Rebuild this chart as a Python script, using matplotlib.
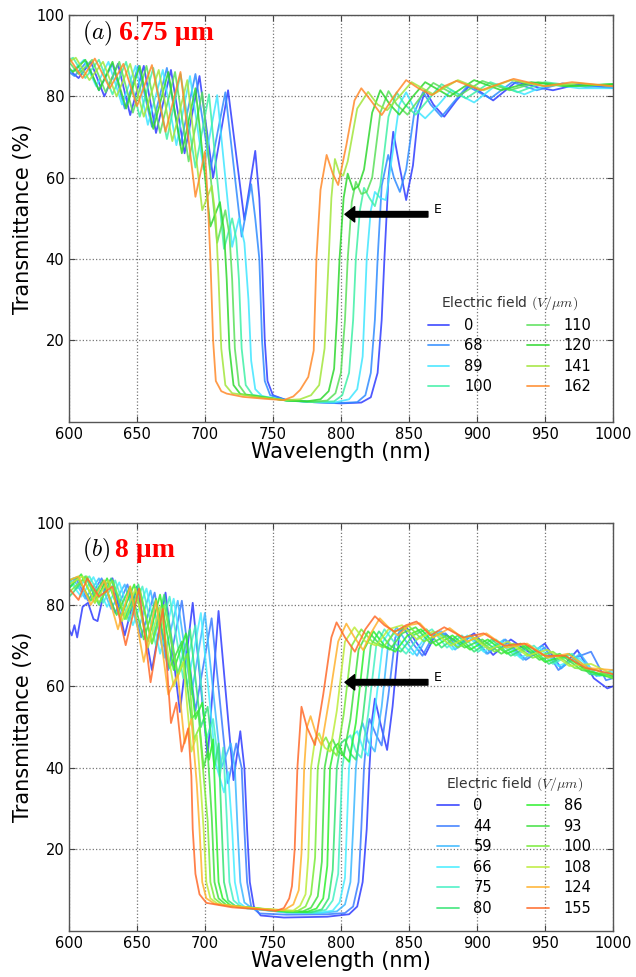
import matplotlib.pyplot as plt

plt.rcParams['mathtext.fontset'] = 'cm'
plt.rcParams['font.family'] = ['DejaVu Sans']

# ---- panel (a): 6.75 um cell ----
fields_a = [0, 68, 89, 100, 110, 120, 141, 162]
colors_a = ['#2f3cff', '#2f8cff', '#3fe6ff', '#3ff0a6', '#5ae05a', '#2fd82f', '#a2e63c', '#ff8a2a']

a_e0 = [(600, 86.5), (607, 84.5), (616, 88.5), (626, 80), (636, 88), (645, 75.4), (655, 87.5), (664, 71),
        (675, 86.5), (685, 66), (696, 85), (706, 60), (717, 81.5), (729, 49.6), (737, 66.6), (740, 55),
        (742, 40), (744, 20), (746, 10), (750, 6.5), (760, 5.3), (780, 4.8), (800, 4.5), (815, 4.7),
        (822, 6), (827, 12), (830, 25), (832, 40), (835, 60), (838.5, 71.3), (843, 63), (848, 54.5),
        (853, 63), (857, 76), (862, 81.5), (868, 78), (876, 75), (885, 79), (895, 82.8), (912, 79),
        (929, 83.6), (945, 82.2), (956, 81.5), (975, 83), (1000, 82)]
a_e68 = [(600, 86), (604, 85), (613, 88.5), (622, 81.5), (632, 88), (641, 77), (651, 87.5), (661, 72.5),
         (672, 87), (682, 68), (693, 85.5), (704, 62), (715, 81), (727, 45.5), (734, 58.4), (737, 50),
         (740, 40), (742, 20), (744, 10), (748, 6.5), (760, 5.3), (780, 4.8), (800, 4.6), (812, 4.8),
         (818, 6.5), (822, 12), (825, 25), (827, 40), (830, 58), (834.8, 65.6), (839, 60), (843.4, 56.5),
         (848, 62), (854, 76), (860.5, 81.1), (866, 78), (874, 75), (884, 79), (893, 82.5), (910, 79.5),
         (926, 83.5), (944, 81.5), (963, 83.2), (980, 82.3), (1000, 82.5)]
a_e89 = [(600, 86.5), (602, 86), (611, 89), (620, 82.5), (629, 88.5), (639, 78), (649, 87.5), (658, 73),
         (669, 86.5), (679, 68), (689, 85), (699, 62), (709, 80.3), (720, 43), (725, 50), (729, 44),
         (732, 30), (734, 15), (737, 8), (742, 6.3), (760, 5.2), (780, 4.8), (795, 4.7), (806, 5.5),
         (812, 8), (816, 16), (819, 40), (822, 52), (825, 56.5), (829, 55), (833, 54.5), (838, 66),
         (843, 78), (848, 81), (854, 77), (862, 74.6), (872, 78), (881, 81.5), (898, 78.5), (915, 83),
         (935, 80.5), (953, 83), (975, 82), (1000, 82)]
a_e100 = [(600, 89), (603, 89.5), (612, 84.5), (622, 89), (632, 80.5), (642, 88.5), (652, 75), (662, 87),
          (672, 69.5), (682, 85.5), (693, 62.5), (703, 80.5), (714, 42.5), (720, 50), (723, 45), (725, 35),
          (727, 18), (730, 9), (735, 6.6), (760, 5.2), (780, 4.8), (795, 5), (801, 6.5), (806, 12),
          (809, 25), (811, 40), (814, 52), (817, 57.5), (821, 55), (825, 53), (829, 58), (835, 75),
          (841, 81), (847, 78), (855, 75.5), (865, 79.5), (874, 83), (892, 79.5), (910, 83.5), (930, 81),
          (950, 83.5), (975, 82.5), (1000, 83)]
a_e110 = [(600, 88.5), (607, 85.5), (617, 89), (627, 81), (637, 88.5), (647, 76), (657, 87.5), (667, 71),
          (678, 86), (688, 64), (698, 81), (709, 44), (715, 52), (718, 46), (720, 35), (722, 18),
          (725, 9), (730, 6.7), (760, 5.2), (780, 4.9), (790, 5.2), (796, 7), (800, 12), (803, 25),
          (805, 40), (808, 54), (811, 59), (815, 56), (819, 56.5), (823, 60), (829, 76), (835, 81.3),
          (841, 78), (849, 75.5), (859, 80), (868, 83.3), (886, 80), (904, 83.8), (924, 81.5), (945, 83.5),
          (970, 82.5), (1000, 83)]
a_e120 = [(600, 87), (603, 86), (612, 89), (622, 81.5), (632, 88.5), (642, 77), (652, 87.5), (662, 72),
          (673, 86), (683, 66), (693, 82), (704, 48), (711, 54), (714, 47), (716, 35), (718, 18),
          (721, 9), (726, 6.8), (760, 5.2), (775, 5), (785, 5.5), (791, 7.5), (795, 13), (797, 25),
          (799, 40), (802, 55), (805, 61), (809, 57), (813, 58), (817, 62), (823, 76), (829, 81.5),
          (836, 78), (843, 75.5), (853, 80), (862, 83.5), (880, 80), (898, 84), (918, 81.5), (940, 83.5),
          (965, 82.5), (1000, 83)]
a_e141 = [(600, 88.5), (605, 89.5), (615, 84), (625, 88.5), (635, 80), (645, 88), (655, 75), (666, 86.5),
          (676, 69), (687, 84), (698, 52), (705, 58), (708, 50), (710, 35), (712, 18), (715, 9),
          (720, 7), (740, 6), (760, 5.3), (770, 5.5), (778, 6.5), (784, 9), (788, 18), (791, 40),
          (793, 55), (795.6, 64.6), (799, 61), (801.7, 60.5), (805, 64), (812, 77), (820, 81.1), (827, 78),
          (834, 76.6), (843, 80), (852, 83.5), (868, 80.5), (886, 84), (905, 81.5), (925, 84), (950, 82.5),
          (975, 83.2), (1000, 82.5)]
a_e162 = [(600, 89.5), (610, 84.5), (619, 89.3), (630, 82), (640, 88), (650, 77.6), (661, 87.7), (671, 71.3),
          (682, 86), (693, 55.3), (700, 66.4), (702, 55), (704, 40), (706, 20), (708, 10), (712, 7.5),
          (716, 6.9), (728, 6.1), (745, 5.6), (758, 5.3), (765, 6.2), (770, 7.8), (776, 11), (780, 17.5),
          (782, 40), (785, 57), (789.5, 65.6), (794, 61), (798, 58.2), (804, 68), (810, 79), (815, 82),
          (822, 79), (830, 75.4), (839, 80), (848, 84), (857, 82), (867, 80.3), (876, 82.5), (885, 83.8),
          (903, 81.5), (927, 84.3), (950, 82.5), (970, 83.5), (1000, 82.5)]
curves_a = [a_e0, a_e68, a_e89, a_e100, a_e110, a_e120, a_e141, a_e162]

# ---- panel (b): 8 um cell ----
fields_b = [0, 44, 59, 66, 75, 80, 86, 93, 100, 108, 124, 155]
colors_b = ['#2f3cff', '#3a7cff', '#3cb8ff', '#45eeff', '#45f0c4', '#35e474', '#2ef02e', '#42e042',
            '#7aec3a', '#bdec3c', '#ffb22e', '#ff6a2a']

b_e0 = [(600, 74), (602, 72.5), (604, 75), (606, 72), (610, 79.5), (614, 80.5), (618, 76.5), (621, 76),
        (627, 85), (632, 86.5), (641, 72.5), (650, 84.5), (661, 64), (671, 83), (681.6, 53.7), (691, 80.5),
        (702, 42.7), (710, 78.5), (721, 37), (726, 49), (729, 40), (731, 25), (733, 12), (736, 6),
        (741, 3.8), (758, 3.3), (790, 3.5), (806, 4.1), (812, 6), (816, 12), (819, 25), (821, 40),
        (823, 52), (825, 57), (829, 51), (834, 44.4), (838, 55), (843, 73), (848, 74.6), (855, 71),
        (862, 67.7), (870, 73), (878, 72.5), (887, 70.6), (898, 73), (912, 67.7), (925, 71.5), (940, 68),
        (950, 70.5), (962, 64.4), (974, 68.9), (986, 62), (996, 59.5), (1000, 60)]
b_e44 = [(600, 84), (605, 86.5), (614, 81), (624, 86.5), (634, 78), (643, 85), (653, 72), (663, 83),
         (673, 64), (683, 81), (693, 54), (704.9, 76.7), (717, 36.2), (723, 46), (727, 40), (729, 25),
         (731, 12), (734, 6), (740, 4.3), (760, 4), (790, 4.1), (803, 4.4), (809, 6), (813, 12),
         (815, 25), (817, 40), (819, 48), (821, 52), (826, 48), (830, 45.5), (835, 58), (840, 72),
         (846, 74.5), (853, 70.5), (860, 67.5), (868, 72.5), (877, 73), (886, 69.5), (896, 72.5), (908, 68),
         (921, 71.5), (936, 66.5), (950, 69.5), (960, 64), (972, 67), (984, 68.5), (995, 61.5), (1000, 62)]
b_e59 = [(600, 85), (603, 86.5), (612, 81.5), (622, 86.5), (631, 79), (641, 85), (651, 74), (660, 83.5),
         (670, 67), (680, 81), (690, 58), (700, 78), (712, 40), (719, 46), (722, 40), (724, 25),
         (726, 12), (729, 7), (735, 5.5), (760, 4.5), (785, 4.4), (797, 4.8), (803, 6.5), (807, 12),
         (809, 25), (811, 40), (814, 49), (816, 51), (820, 46.5), (825, 44), (830, 55), (835, 71),
         (841, 74.5), (848, 71), (856, 67.5), (864, 72.5), (874, 73.5), (884, 69), (895, 72.5), (907, 68),
         (920, 71.5), (934, 66.5), (948, 70), (962, 64.5), (976, 68), (988, 62.5), (1000, 64)]
b_e66 = [(600, 86), (609, 82), (618, 86.8), (628, 79.5), (637, 85.5), (647, 75), (657, 84), (667, 68),
         (677, 81.5), (687, 60), (697, 78), (708, 41), (714, 34), (717, 39), (720, 25), (722, 12),
         (725, 7), (731, 5.5), (760, 4.6), (785, 4.5), (794, 5), (799, 7), (803, 13), (806, 40),
         (809, 48), (812, 49), (816, 45), (820, 43), (825, 54), (831, 71), (837, 74), (845, 70.5),
         (853, 67.8), (862, 72), (871, 73.5), (882, 69), (893, 72.5), (905, 68.5), (918, 71), (932, 67),
         (946, 69.5), (960, 65), (975, 67), (990, 62.5), (1000, 63.5)]
b_e75 = [(600, 86.5), (606, 84), (615, 87), (625, 80.5), (634, 86), (644, 76), (654, 84.5), (664, 70),
         (674, 82), (684, 62), (693, 75), (701, 47), (706, 52), (711, 38), (713.5, 45), (716, 28),
         (718, 12), (721, 7.5), (727, 5.8), (760, 4.6), (780, 4.5), (789, 5.2), (794, 7.5), (798, 14),
         (801, 40), (804, 47), (807, 48), (811, 44), (815, 42.5), (820, 53), (826, 70), (832, 74),
         (840, 70.5), (848, 68), (857, 72), (867, 74), (878, 69.5), (889, 72.5), (901, 68.5), (914, 71.5),
         (928, 67.5), (942, 70), (956, 65.5), (970, 68), (985, 63), (1000, 63)]
b_e80 = [(600, 82), (603, 83), (612, 87), (622, 80), (631, 86.5), (641, 76.5), (651, 85), (661, 70.5),
         (670, 82.5), (680, 63), (689, 74), (697, 50), (702, 55), (707, 40), (710, 46), (712, 28),
         (714, 12), (717, 7.5), (723, 6), (760, 4.7), (778, 4.6), (786, 5.3), (791, 8), (794, 15),
         (797, 40), (800, 46), (803, 47), (807, 43.5), (811, 42), (816, 52), (822, 70), (828, 73.5),
         (836, 70), (844, 68.5), (853, 72.5), (863, 74), (874, 69.5), (886, 72.5), (898, 68.5), (911, 71.5),
         (925, 67.5), (939, 70), (953, 65.5), (968, 68), (983, 63), (1000, 62.5)]
b_e86 = [(600, 84), (609, 87.5), (619, 80.5), (628, 86.5), (638, 77), (648, 85), (658, 71), (667, 82.5),
         (677, 64), (686, 73), (693, 52), (698, 56), (703, 42), (706, 47), (708, 28), (710, 12),
         (713, 8), (719, 6.2), (760, 4.8), (775, 4.7), (782, 5.5), (787, 8), (790, 16), (792, 40),
         (795, 45), (798, 46), (802, 43), (806, 41.5), (811, 51), (817, 69), (824, 73.5), (832, 70),
         (840, 68.5), (849, 72.5), (859, 74), (870, 70), (882, 72.5), (895, 69), (908, 71.5), (922, 68),
         (936, 70), (950, 66), (965, 67.5), (980, 64), (1000, 62)]
b_e93 = [(600, 86), (606, 86.8), (616, 81), (625, 86), (635, 77.5), (645, 84.5), (655, 71.5), (664, 81.5),
         (674, 64.5), (683, 71), (690, 52), (695, 54), (699, 40), (702, 44), (705, 28), (707, 12),
         (710, 8), (716, 6.3), (760, 4.8), (772, 4.8), (778, 5.7), (783, 8.5), (786, 17), (788, 40),
         (791, 45.5), (794, 47), (798, 44), (802, 43), (807, 52), (813, 69), (820, 73.5), (828, 70.5),
         (836, 69), (845, 73), (855, 74.5), (866, 70.5), (878, 72.5), (891, 69.5), (904, 71.5), (918, 68),
         (932, 70.5), (946, 66.5), (961, 68), (977, 64), (1000, 62.5)]
b_e100 = [(600, 83), (603, 84), (613, 87), (622, 80.5), (632, 86), (642, 76.5), (652, 84), (661, 70.5),
          (670, 80), (680, 62.5), (687, 68), (692, 47), (696, 50), (699, 38), (702, 27), (704, 12),
          (707, 8), (713, 6.4), (760, 4.9), (768, 4.9), (774, 6), (778, 9), (781, 18), (783, 40),
          (786, 46), (789, 47.5), (793, 44.5), (797, 43), (802, 53), (808, 70), (815, 74), (823, 71),
          (831, 69.5), (840, 73.5), (850, 74.8), (861, 71), (873, 73), (886, 69.5), (899, 72), (913, 68.5),
          (927, 70.5), (941, 67), (956, 68.5), (972, 64.5), (988, 64), (1000, 62)]
b_e108 = [(600, 85), (610, 87), (619, 80.5), (629, 86), (639, 76), (649, 84), (658, 69.5), (667, 79.5),
          (677, 60), (684, 66), (690, 44), (694, 48), (697, 35), (699, 25), (701, 12), (704, 8),
          (710, 6.5), (740, 5.5), (765, 5), (770, 6.2), (774, 9), (776, 18), (778, 40), (781, 47),
          (784, 48.5), (788, 45), (792, 44), (797, 54), (803, 71), (810, 74.5), (818, 71), (826, 70),
          (835, 74), (845, 75), (856, 71.5), (868, 73.5), (881, 70), (895, 72.5), (909, 69), (923, 71),
          (937, 67.5), (952, 69), (968, 65), (984, 65.5), (1000, 63)]
b_e124 = [(600, 86), (607, 87), (616, 80), (626, 86), (636, 74), (645, 84.5), (655, 66), (664, 81),
          (673, 58), (680, 63), (685, 46), (690, 52), (694, 36), (696, 25), (698, 12), (701, 8),
          (707, 6.7), (740, 5.4), (758, 5.1), (765, 6.5), (769, 10), (771, 19), (773, 40), (775, 50),
          (777.7, 52.7), (782, 48), (785.8, 45.6), (792, 58), (798, 71), (804, 75.4), (810, 72), (816.4, 68.9),
          (822, 73), (828.6, 76.7), (835, 74.5), (842, 72.5), (850, 75), (858, 75.5), (868, 72), (880, 74.3),
          (893, 71), (907, 73), (922, 69.5), (937, 70.5), (952, 67), (967, 68), (982, 64.5), (1000, 64)]
b_e155 = [(600, 84), (607, 81.2), (613.5, 86.5), (622, 82), (632, 84.5), (641.7, 70.1), (651.5, 84), (660, 61),
          (669, 79), (675, 51), (679, 56), (682.8, 44), (687.7, 49.7), (690, 38), (691, 25), (693, 14),
          (696, 9), (701, 6.9), (720, 5.8), (740, 5.3), (752, 4.9), (758, 5.6), (762, 8), (764, 11),
          (766, 20), (768, 40), (771, 55), (775, 50), (780.9, 45.6), (787, 58), (793, 72), (796.8, 75.7),
          (803, 72), (810.3, 68.5), (818, 74), (825, 77.2), (832, 75), (839.7, 73.4), (848, 75), (855.6, 75.9),
          (866, 72.5), (876, 74.5), (890, 72), (905, 73), (920, 70), (935, 70.5), (950, 67.5), (965, 67.5),
          (980, 64.5), (1000, 63)]
curves_b = [b_e0, b_e44, b_e59, b_e66, b_e75, b_e80, b_e86, b_e93, b_e100, b_e108, b_e124, b_e155]


def draw_panel(ax, fields, colors, curves, tag, thickness, tag_y, arrow_t, legend_anchor):
    for e, c, pts in zip(fields, colors, curves):
        wl = [p[0] for p in pts]
        tr = [p[1] for p in pts]
        ax.plot(wl, tr, color=c, lw=1.3, alpha=0.85, label=str(e),
                solid_joinstyle='round', solid_capstyle='round')

    ax.set_xlim(600, 1000)
    ax.set_ylim(0, 100)
    ax.set_xticks(range(600, 1001, 50))
    ax.set_yticks([20, 40, 60, 80, 100])
    ax.tick_params(direction='in', top=True, right=True, length=4, labelsize=10.5, color='#444444')
    ax.grid(True, linestyle=':', color='#777777', lw=0.9)
    for sp in ax.spines.values():
        sp.set_color('#555555')
        sp.set_linewidth(1.0)

    ax.set_xlabel('Wavelength (nm)', fontsize=15, labelpad=0)
    ax.set_ylabel('Transmittance (%)', fontsize=15, labelpad=2)

    # panel tag and cell thickness
    ax.text(609.5, tag_y, '$(%s)$' % tag, fontsize=17, va='center', ha='left')
    ax.text(637 if tag == 'a' else 634, tag_y, thickness, color='red',
            fontsize=20, fontweight='bold', family=['Liberation Serif', 'DejaVu Serif'],
            va='center', ha='left')

    # field direction arrow
    ax.annotate('', xy=(803, arrow_t), xytext=(864, arrow_t),
                arrowprops=dict(facecolor='black', edgecolor='black', width=4, headwidth=11,
                                headlength=7, shrink=0))
    ax.text(868, arrow_t + 1.2, 'E', fontsize=9, ha='left', va='center')

    leg = ax.legend(ncol=2, frameon=False, title='Electric field $(V/\\mu m)$', fontsize=10.5,
                    title_fontsize=10, loc='lower right', bbox_to_anchor=legend_anchor,
                    handlelength=1.5, labelspacing=0.38, columnspacing=2.4, handletextpad=1.0)
    leg.get_title().set_color('#333333')


fig = plt.figure(figsize=(6.36, 9.77), dpi=100)
ax_a = fig.add_axes([0.1085, 0.5684, 0.855, 0.4162])
ax_b = fig.add_axes([0.1085, 0.0471, 0.855, 0.4173])

draw_panel(ax_a, fields_a, colors_a, curves_a, 'a', '6.75 µm', 95.4, 51, (0.985, 0.035))
draw_panel(ax_b, fields_b, colors_b, curves_b, 'b', '8 µm', 93.4, 61, (0.985, 0.005))

fig.savefig('out.png', dpi=100)
